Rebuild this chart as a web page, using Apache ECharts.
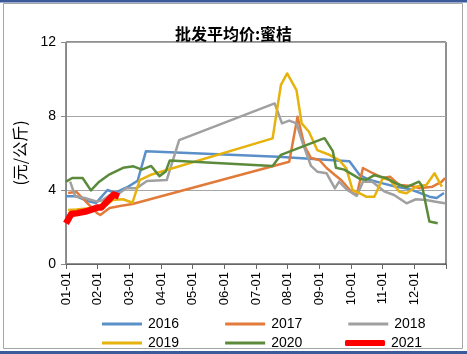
<!DOCTYPE html>
<html>
<head>
<meta charset="utf-8">
<script src="https://cdn.jsdelivr.net/npm/echarts@6/dist/echarts.min.js"></script>
<style>
  html, body { margin: 0; padding: 0; background: #fff; }
  #chart { width: 467px; height: 354px; }
</style>
</head>
<body>
<div id="chart"></div>
<script>
// 批发平均价:蜜桔 (元/公斤), dates are MM-DD
const monthLabels = ['01-01', '02-01', '03-01', '04-01', '05-01', '06-01', '07-01', '08-01', '09-01', '10-01', '11-01', '12-01']

const d2016 = ['01-01', '01-11', '01-22', '01-30', '02-10', '02-17', '03-01', '03-10', '03-18', '07-23', '09-30', '10-10', '10-19', '11-01', '11-14', '11-27', '12-08', '12-16', '12-23', '12-30']
const v2016 = [3.66, 3.66, 3.4, 3.3, 4.0, 3.85, 4.18, 4.5, 6.1, 5.8, 5.55, 4.8, 4.55, 4.36, 4.18, 4.05, 3.82, 3.64, 3.57, 3.84]

const d2017 = ['01-03', '01-11', '01-31', '02-03', '02-12', '02-22', '03-05', '08-03', '08-11', '08-18', '08-24', '09-01', '09-08', '09-16', '09-22', '10-03', '10-07', '10-13', '10-22', '11-01', '11-08', '11-17', '11-29', '12-06', '12-19', '12-28', '12-31']
const v2017 = [3.84, 3.9, 2.75, 2.65, 3.03, 3.13, 3.24, 5.53, 7.96, 6.34, 5.73, 5.62, 5.19, 4.81, 4.54, 3.84, 3.73, 5.19, 4.92, 4.65, 4.72, 4.27, 4.22, 4.1, 4.18, 4.45, 4.65]

const d2018 = ['01-05', '01-10', '01-19', '01-31', '02-05', '02-12', '02-19', '02-28', '03-09', '03-19', '04-07', '04-19', '07-20', '07-27', '08-03', '08-10', '08-16', '08-24', '08-30', '09-08', '09-16', '09-20', '09-28', '10-07', '10-13', '10-22', '11-03', '11-12', '11-24', '12-03', '12-13', '12-22', '12-31']
const v2018 = [4.45, 3.65, 3.57, 3.37, 3.45, 3.73, 3.73, 4.1, 4.1, 4.49, 4.54, 6.7, 8.68, 7.6, 7.75, 7.6, 6.54, 5.3, 4.99, 4.9, 4.09, 4.45, 4.0, 3.68, 4.45, 4.45, 3.91, 3.73, 3.28, 3.5, 3.46, 3.37, 3.28]

const d2019 = ['01-03', '01-11', '01-31', '02-09', '02-15', '02-25', '03-05', '03-12', '03-22', '07-18', '07-26', '08-01', '08-10', '08-15', '08-22', '08-30', '09-11', '09-20', '09-27', '10-03', '10-10', '10-16', '10-24', '11-01', '11-08', '11-17', '11-24', '12-03', '12-13', '12-21', '12-28']
const v2019 = [2.92, 2.95, 3.06, 3.19, 3.46, 3.5, 3.31, 4.54, 4.81, 6.79, 9.68, 10.3, 9.4, 7.6, 7.15, 6.16, 5.89, 5.62, 5.17, 4.0, 3.82, 3.64, 3.64, 4.63, 4.54, 3.91, 3.82, 4.18, 4.27, 4.9, 4.18]

const d2020 = ['01-01', '01-07', '01-17', '01-25', '02-02', '02-12', '02-25', '03-06', '03-14', '03-23', '03-31', '04-06', '04-10', '07-18', '07-26', '09-06', '09-14', '09-17', '09-25', '10-10', '10-16', '10-24', '11-04', '11-14', '11-24', '12-06', '12-09', '12-16', '12-24']
const v2020 = [4.45, 4.65, 4.65, 3.98, 4.45, 4.85, 5.2, 5.28, 5.1, 5.3, 4.75, 5.0, 5.6, 5.3, 5.9, 6.8, 6.1, 5.2, 5.1, 4.6, 4.55, 4.8, 4.65, 4.35, 4.15, 4.45, 4.2, 2.3, 2.2]

const d2021 = ['01-01', '01-06', '01-12', '01-21', '01-31', '02-04', '02-10', '02-16', '02-21']
const v2021 = [2.2, 2.7, 2.75, 2.85, 3.05, 3.05, 3.4, 3.75, 3.65]

const monthStart = [0, 31, 60, 91, 121, 152, 182, 213, 244, 274, 305, 335]
function dayOf(md) {
  const [m, d] = md.split('-').map(Number)
  return monthStart[m - 1] + d - 1
}
function pairs(dates, vals) {
  return dates.map((md, i) => [dayOf(md), vals[i]])
}

const font = '"Liberation Sans", Arial, sans-serif'
const cjk = '"Noto Sans CJK SC", sans-serif'

function line(name, dates, vals, color, width) {
  return {
    name: name,
    type: 'line',
    symbol: 'none',
    smooth: false,
    lineStyle: { color: color, width: width, join: 'round' },
    itemStyle: { color: color },
    data: pairs(dates, vals)
  }
}

function legend(names, left, top, h, icon) {
  return {
    data: names,
    left: left,
    top: top,
    icon: icon,
    itemWidth: 40,
    itemHeight: h,
    itemGap: 46,
    textStyle: { fontFamily: font, fontSize: 14, color: '#000', padding: [0, 0, 0, 1] }
  }
}

const chart = echarts.init(document.getElementById('chart'))
chart.setOption({
  backgroundColor: '#fff',
  animation: false,
  title: {
    text: '批发平均价:蜜桔',
    left: 'center',
    top: 21,
    textStyle: { fontFamily: cjk, fontSize: 16, fontWeight: 'bold', color: '#000' }
  },
  graphic: [
    { type: 'rect', shape: { x: 3.5, y: 3.5, width: 459, height: 345 }, style: { fill: 'none', stroke: '#a6a6a6', lineWidth: 1 }, silent: true },
    { type: 'rect', shape: { x: 0, y: 0, width: 467, height: 2.5 }, style: { fill: '#3a5a9a' }, silent: true },
    { type: 'rect', shape: { x: 0, y: 351, width: 467, height: 3 }, style: { fill: '#3a5a9a' }, silent: true }
  ],
  legend: [
    legend(['2016', '2017', '2018'], 97, 312, 3, 'rect'),
    legend(['2019', '2020'], 97, 331, 3, 'rect'),
    legend(['2021'], 340, 331, 6, 'roundRect')
  ],
  grid: {
    left: 66,
    right: 21,
    top: 42,
    bottom: 90,
    show: true,
    borderColor: '#222',
    borderWidth: 1,
    containLabel: false
  },
  xAxis: {
    type: 'value',
    min: 0,
    max: 366,
    interval: 30.5,
    axisLine: { show: true, lineStyle: { color: '#666' } },
    axisTick: { show: true, length: 5, lineStyle: { color: '#666' } },
    splitLine: { show: false },
    axisLabel: {
      rotate: 90,
      margin: 8,
      fontFamily: font,
      fontSize: 13,
      color: '#000',
      formatter: function (v) {
        const i = Math.round(v / 30.5)
        return i < 12 ? monthLabels[i] : ''
      }
    }
  },
  yAxis: {
    type: 'value',
    min: 0,
    max: 12,
    interval: 4,
    name: '(元/公斤)',
    nameLocation: 'middle',
    nameGap: 38,
    nameTextStyle: { fontFamily: cjk, fontSize: 16, color: '#000' },
    axisLine: { show: true, lineStyle: { color: '#888' } },
    axisTick: { show: true, length: 5, lineStyle: { color: '#888' } },
    splitLine: { show: true, lineStyle: { color: '#a6a6a6', width: 1 } },
    axisLabel: { fontFamily: font, fontSize: 14, color: '#000', margin: 10 }
  },
  series: [
    line('2016', d2016, v2016, '#5b8fc8', 2.5),
    line('2017', d2017, v2017, '#e27b3a', 2.5),
    line('2018', d2018, v2018, '#a0a0a0', 2.5),
    line('2019', d2019, v2019, '#e6b20e', 2.5),
    line('2020', d2020, v2020, '#5b8b3a', 2.5),
    line('2021', d2021, v2021, '#ff0000', 6.5)
  ]
})
</script>
</body>
</html>
